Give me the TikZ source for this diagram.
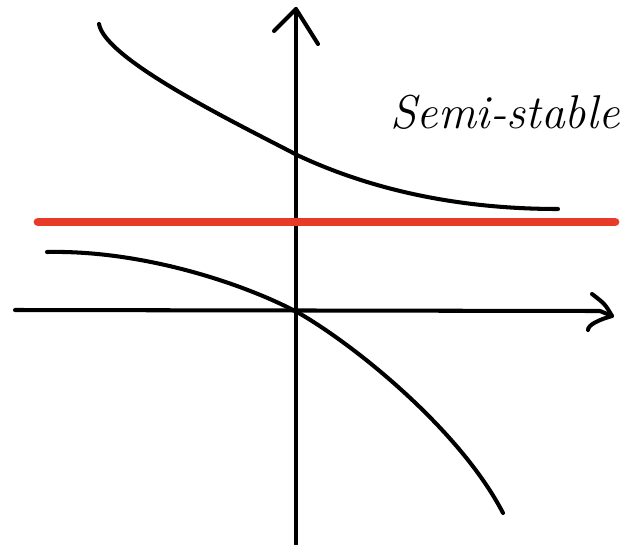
\documentclass[tikz,border=0pt]{standalone}
\usepackage{xcolor}
\definecolor{sketchred}{RGB}{232,58,40}
\usepackage{tikz}
\usetikzlibrary{positioning}

\begin{document}
\begin{tikzpicture}[
      x=0.02cm, y=-0.02cm,
      pen/.style={line width=2.3pt, line cap=round, line join=round, black},
      redpen/.style={line width=5pt, line cap=round, color=sketchred},
      label/.style={font=\fontsize{27}{32}\selectfont\itshape}
  ]
  \useasboundingbox (0,0) rectangle (641,544);

  % axes
  \coordinate (ybot) at (296,544);
  \coordinate (ytop) at (296,9);
  \coordinate (xleft) at (15,310);
  \coordinate (xright) at (612,316);
  \draw[pen] (ybot) -- (ytop);
  \draw[pen] (274,31) -- (ytop) -- (318,44);
  \draw[pen] (xleft) -- (600,311) -- (xright);
  \draw[pen] (592,294) .. controls (605,304) .. (xright) .. controls (598,320) and (588,325) .. (588,330);

  % red equilibrium line
  \draw[redpen] (38,222) -- (615,222);

  % solutions
  \draw[pen] (99,24) .. controls (105,60) and (240,125) .. (297,155)
             .. controls (380,194) and (470,209) .. (558,209);
  \draw[pen] (47,252) .. controls (140,250) and (240,282) .. (297,312)
             .. controls (355,345) and (460,430) .. (503,513);

  \node[label] (semi) at (505,112) {Semi-stable};
\end{tikzpicture}
\end{document}
